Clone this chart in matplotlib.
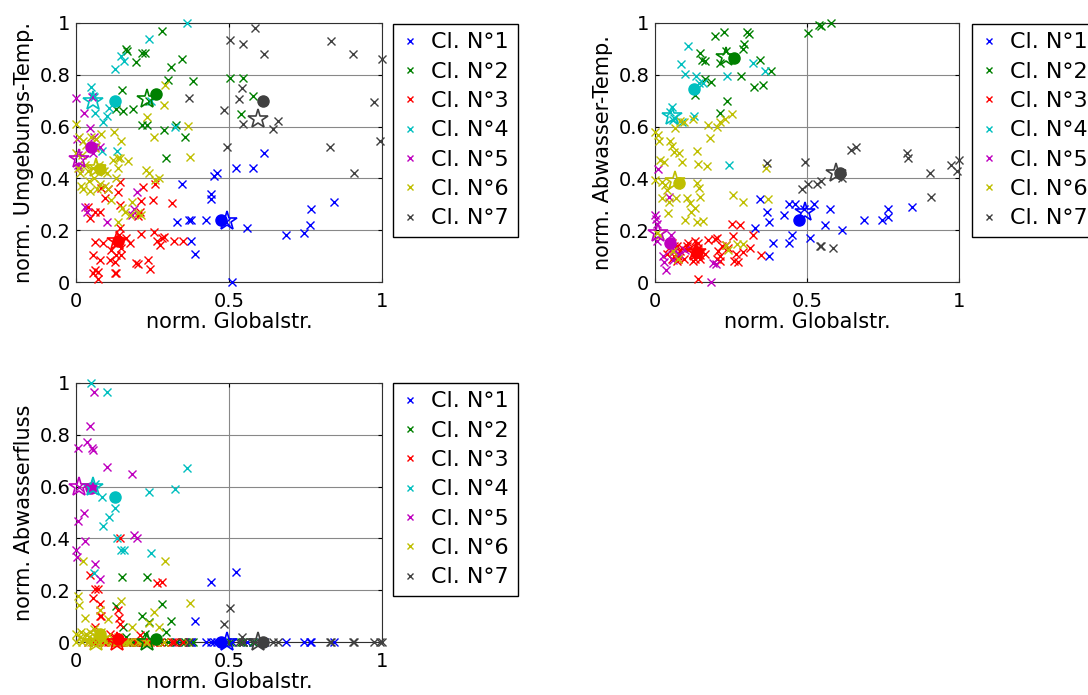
import matplotlib
matplotlib.use("Agg")
import matplotlib.pyplot as plt
from matplotlib.ticker import FuncFormatter, FixedLocator

plt.rcParams['font.family'] = ['DejaVu Sans']

# ---------------------------------------------------------------
# Cluster members: normalised global radiation (x) and the three
# normalised features (ambient temp., waste-water temp., flow)
# ---------------------------------------------------------------
cl1_glob = [0.33, 0.345, 0.37, 0.375, 0.376, 0.389, 0.424, 0.44, 0.44, 0.45, 0.46,
            0.49, 0.509, 0.523, 0.558, 0.577, 0.615, 0.687, 0.746, 0.766, 0.768, 0.844]
cl1_umg = [0.23, 0.38, 0.24, 0.24, 0.16, 0.11, 0.24, 0.34, 0.32, 0.41, 0.42,
           0.23, 0.0, 0.44, 0.21, 0.44, 0.50, 0.18, 0.19, 0.22, 0.28, 0.31]
cl1_abw = [0.21, 0.32, 0.27, 0.23, 0.10, 0.15, 0.26, 0.15, 0.30, 0.18, 0.30,
           0.28, 0.17, 0.30, 0.22, 0.28, 0.20, 0.24, 0.24, 0.25, 0.28, 0.29]
cl1_flow = [0.0, 0.0, 0.0, 0.0, 0.0, 0.08, 0.0, 0.23, 0.0, 0.0, 0.0,
            0.0, 0.0, 0.27, 0.0, 0.0, 0.0, 0.0, 0.0, 0.0, 0.0, 0.0]

cl2_glob = [0.131, 0.149, 0.155, 0.164, 0.166, 0.185, 0.196, 0.215, 0.215, 0.226, 0.233,
            0.237, 0.282, 0.289, 0.293, 0.302, 0.31, 0.327, 0.346, 0.356, 0.382, 0.502,
            0.54, 0.547, 0.58]
cl2_umg = [0.667, 0.742, 0.66, 0.90, 0.89, 0.667, 0.85, 0.886, 0.606, 0.886, 0.606,
           0.70, 0.968, 0.587, 0.477, 0.78, 0.83, 0.606, 0.86, 0.56, 0.777, 0.787,
           0.65, 0.787, 0.72]
cl2_abw = [0.723, 0.884, 0.858, 0.852, 0.783, 0.772, 0.948, 0.845, 0.652, 0.965, 0.89,
           0.697, 0.794, 0.90, 0.919, 0.965, 0.959, 0.752, 0.858, 0.761, 0.815, 0.961,
           0.994, 0.99, 1.0]
cl2_flow = [0.138, 0.25, 0.058, 0.02, 0.0, 0.0, 0.0, 0.10, 0.0, 0.03, 0.25,
            0.077, 0.148, 0.0, 0.039, 0.0, 0.081, 0.0, 0.0, 0.0, 0.0, 0.0,
            0.0, 0.0, 0.0]

cl3_glob = [0.039, 0.045, 0.056, 0.056, 0.061, 0.061, 0.061, 0.072, 0.072, 0.077,
            0.077, 0.083, 0.088, 0.094, 0.105, 0.110, 0.116, 0.126, 0.126, 0.132,
            0.132, 0.137, 0.14, 0.143, 0.143, 0.143, 0.148, 0.148, 0.165, 0.175,
            0.197, 0.203, 0.203, 0.208, 0.214, 0.214, 0.219, 0.235, 0.241, 0.252,
            0.255, 0.259, 0.265, 0.273, 0.28, 0.288, 0.314, 0.321, 0.35]
cl3_umg = [0.29, 0.246, 0.104, 0.033, 0.272, 0.156, 0.046, 0.039, 0.013, 0.272,
           0.085, 0.362, 0.149, 0.323, 0.358, 0.085, 0.124, 0.079, 0.033, 0.104,
           0.033, 0.348, 0.181, 0.387, 0.297, 0.207, 0.13, 0.104, 0.168, 0.149,
           0.072, 0.253, 0.069, 0.272, 0.313, 0.184, 0.367, 0.085, 0.052, 0.317,
           0.194, 0.380, 0.16, 0.143, 0.17, 0.175, 0.304, 0.159, 0.159]
cl3_abw = [0.11, 0.13, 0.15, 0.09, 0.14, 0.10, 0.12, 0.08, 0.14, 0.10,
           0.09, 0.12, 0.13, 0.09, 0.14, 0.15, 0.13, 0.08, 0.11, 0.16,
           0.09, 0.12, 0.012, 0.15, 0.10, 0.13, 0.105, 0.09, 0.11, 0.162,
           0.166, 0.171, 0.09, 0.12, 0.08, 0.10, 0.14, 0.144, 0.13, 0.223,
           0.178, 0.08, 0.11, 0.079, 0.22, 0.114, 0.13, 0.181, 0.106]
cl3_flow = [0.0, 0.258, 0.17, 0.0, 0.204, 0.058, 0.0, 0.0, 0.204, 0.10,
            0.148, 0.10, 0.0, 0.0, 0.0, 0.03, 0.0, 0.0, 0.02, 0.0,
            0.0, 0.123, 0.094, 0.40, 0.071, 0.0, 0.0, 0.0, 0.0, 0.0,
            0.0, 0.0, 0.0, 0.026, 0.0, 0.0, 0.0, 0.0, 0.0, 0.0,
            0.0, 0.0, 0.226, 0.0, 0.232, 0.0, 0.0, 0.0, 0.0]

cl4_glob = [0.05, 0.055, 0.058, 0.062, 0.086, 0.089, 0.10, 0.109, 0.128, 0.135,
            0.146, 0.157, 0.237, 0.245, 0.324, 0.362]
cl4_umg = [0.752, 0.719, 0.714, 0.652, 0.506, 0.619, 0.639, 0.671, 0.822, 0.506,
           0.871, 0.852, 0.938, 0.70, 0.597, 1.0]
cl4_abw = [0.658, 0.677, 0.626, 0.632, 0.843, 0.619, 0.803, 0.91, 0.639, 0.794,
           0.768, 0.768, 0.794, 0.452, 0.845, 0.815]
cl4_flow = [1.0, 0.587, 0.265, 0.61, 0.561, 0.448, 0.965, 0.484, 0.516, 0.40,
            0.355, 0.355, 0.58, 0.345, 0.59, 0.67]

cl5_glob = [0.0, 0.002, 0.005, 0.008, 0.01, 0.026, 0.03, 0.037, 0.046, 0.051,
            0.057, 0.059, 0.062, 0.079, 0.10, 0.183, 0.19, 0.2]
cl5_umg = [0.71, 0.552, 0.45, 0.49, 0.44, 0.652, 0.29, 0.27, 0.594, 0.716,
           0.50, 0.56, 0.52, 0.523, 0.232, 0.259, 0.28, 0.348]
cl5_abw = [0.26, 0.245, 0.225, 0.16, 0.435, 0.10, 0.077, 0.045, 0.33, 0.18,
           0.13, 0.085, 0.12, 0.11, 0.123, 0.0, 0.072, 0.07]
cl5_flow = [0.357, 0.329, 0.748, 0.468, 0.60, 0.50, 0.39, 0.774, 0.835, 0.748,
            0.742, 0.964, 0.30, 0.245, 0.674, 0.649, 0.413, 0.40]

cl6_glob = [0.0, 0.0, 0.005, 0.011, 0.012, 0.016, 0.018, 0.022, 0.023, 0.029,
            0.034, 0.038, 0.044, 0.046, 0.05, 0.055, 0.06, 0.061, 0.066, 0.07,
            0.075, 0.079, 0.083, 0.09, 0.095, 0.10, 0.106, 0.115, 0.12, 0.124,
            0.132, 0.137, 0.137, 0.137, 0.143, 0.146, 0.149, 0.159, 0.17, 0.175,
            0.182, 0.203, 0.214, 0.229, 0.233, 0.24, 0.254, 0.257, 0.27, 0.288,
            0.291, 0.366, 0.372]
cl6_umg = [0.61, 0.50, 0.44, 0.56, 0.42, 0.37, 0.49, 0.544, 0.36, 0.45,
           0.529, 0.43, 0.39, 0.35, 0.561, 0.44, 0.40, 0.518, 0.554, 0.36,
           0.45, 0.38, 0.57, 0.43, 0.37, 0.42, 0.36, 0.317, 0.47, 0.58,
           0.40, 0.478, 0.44, 0.233, 0.48, 0.544, 0.284, 0.27, 0.467, 0.259,
           0.31, 0.265, 0.259, 0.432, 0.636, 0.42, 0.559, 0.394, 0.40, 0.684,
           0.761, 0.603, 0.484]
cl6_abw = [0.581, 0.395, 0.19, 0.568, 0.543, 0.471, 0.18, 0.388, 0.323, 0.465,
           0.375, 0.356, 0.266, 0.31, 0.543, 0.524, 0.12, 0.503, 0.593, 0.326,
           0.09, 0.497, 0.622, 0.465, 0.617, 0.24, 0.323, 0.304, 0.272, 0.629,
           0.285, 0.506, 0.381, 0.233, 0.457, 0.362, 0.33, 0.236, 0.446, 0.606,
           0.555, 0.60, 0.617, 0.629, 0.144, 0.125, 0.648, 0.336, 0.146, 0.308,
           0.146, 0.439, 0.32]
cl6_flow = [0.03, 0.0, 0.178, 0.142, 0.02, 0.04, 0.0, 0.314, 0.01, 0.094,
            0.03, 0.0, 0.02, 0.04, 0.0, 0.01, 0.05, 0.0, 0.02, 0.03,
            0.0, 0.123, 0.04, 0.01, 0.0, 0.02, 0.09, 0.0, 0.01, 0.0,
            0.0, 0.0, 0.02, 0.0, 0.0, 0.159, 0.0, 0.0, 0.0, 0.0,
            0.058, 0.0, 0.0, 0.0, 0.0, 0.074, 0.116, 0.0, 0.058, 0.0,
            0.314, 0.0, 0.151]

cl7_glob = [0.368, 0.484, 0.493, 0.502, 0.533, 0.542, 0.545, 0.547, 0.586, 0.615,
            0.645, 0.66, 0.829, 0.833, 0.904, 0.907, 0.973, 0.994, 1.0]
cl7_umg = [0.71, 0.665, 0.52, 0.935, 0.705, 0.75, 0.92, 0.61, 0.98, 0.88,
           0.59, 0.62, 0.52, 0.93, 0.88, 0.42, 0.695, 0.545, 0.86]
cl7_abw = [0.46, 0.36, 0.465, 0.38, 0.38, 0.14, 0.39, 0.138, 0.13, 0.40,
           0.51, 0.52, 0.50, 0.48, 0.42, 0.33, 0.45, 0.43, 0.47]
cl7_flow = [0.0, 0.07, 0.0, 0.13, 0.0, 0.02, 0.0, 0.0, 0.0, 0.0,
            0.0, 0.0, 0.0, 0.0, 0.0, 0.0, 0.0, 0.0, 0.0]

# Cluster centres (filled circles), per cluster: glob, umg, abw, flow
centre_glob = [0.474, 0.261, 0.137, 0.128, 0.048, 0.078, 0.61]
centre_umg = [0.24, 0.726, 0.158, 0.697, 0.523, 0.438, 0.70]
centre_abw = [0.24, 0.863, 0.115, 0.747, 0.15, 0.381, 0.42]
centre_flow = [0.0, 0.013, 0.01, 0.561, 0.594, 0.03, 0.0]

# Representative members (hollow stars)
rep_glob = [0.495, 0.233, 0.135, 0.057, 0.01, 0.065, 0.596]
rep_umg = [0.236, 0.706, 0.16, 0.697, 0.474, 0.44, 0.63]
rep_abw = [0.27, 0.87, 0.115, 0.639, 0.188, 0.39, 0.42]
rep_flow = [0.0, 0.0, 0.0, 0.60, 0.60, 0.0, 0.0]

legend_labels = ['Cl. N°1', 'Cl. N°2', 'Cl. N°3', 'Cl. N°4', 'Cl. N°5', 'Cl. N°6', 'Cl. N°7']
x_label = 'norm. Globalstr.'
y_labels = ['norm. Umgebungs-Temp.', 'norm. Abwasser-Temp.', 'norm. Abwasserfluss']

colors = [(0, 0, 1), (0, 0.5, 0), (1, 0, 0), (0, 0.75, 0.75),
          (0.75, 0, 0.75), (0.75, 0.75, 0), (0.25, 0.25, 0.25)]

glob = [cl1_glob, cl2_glob, cl3_glob, cl4_glob, cl5_glob, cl6_glob, cl7_glob]
features = [
    [cl1_umg, cl2_umg, cl3_umg, cl4_umg, cl5_umg, cl6_umg, cl7_umg],
    [cl1_abw, cl2_abw, cl3_abw, cl4_abw, cl5_abw, cl6_abw, cl7_abw],
    [cl1_flow, cl2_flow, cl3_flow, cl4_flow, cl5_flow, cl6_flow, cl7_flow],
]
centres = [centre_umg, centre_abw, centre_flow]
reps = [rep_umg, rep_abw, rep_flow]

W, H = 1088, 695
fig = plt.figure(figsize=(W / 100, H / 100), dpi=100)

# axes boxes in pixels: (left, top, width, height)
boxes = [(76, 23, 306, 259), (655, 23, 304, 259), (76, 383, 306, 259)]
legend_anchor = [(393, 24), (972, 24), (393, 383)]

for p in range(3):
    l, t, w, h = boxes[p]
    ax = fig.add_axes([l / W, 1 - (t + h) / H, w / W, h / H])
    handles = []
    for k in range(7):
        hnd, = ax.plot(glob[k], features[p][k], linestyle='none', marker='x',
                       color=colors[k], markersize=5.5, markeredgewidth=1.0,
                       clip_on=False, zorder=3)
        handles.append(hnd)
    for k in range(7):
        ax.plot(centre_glob[k], centres[p][k], linestyle='none', marker='o',
                color=colors[k], markersize=8, clip_on=False, zorder=4)
    for k in range(7):
        ax.plot(rep_glob[k], reps[p][k], linestyle='none', marker='*',
                markerfacecolor='none', markeredgecolor=colors[k],
                markersize=15, markeredgewidth=1.2, clip_on=False, zorder=5)

    ax.set_xlim(0, 1)
    ax.set_ylim(0, 1)
    ax.xaxis.set_major_locator(FixedLocator([0, 0.5, 1]))
    ax.yaxis.set_major_locator(FixedLocator([0, 0.2, 0.4, 0.6, 0.8, 1]))
    fmt = FuncFormatter(lambda v, pos: '%g' % v)
    ax.xaxis.set_major_formatter(fmt)
    ax.yaxis.set_major_formatter(fmt)
    ax.grid(True, color='#888888', linewidth=0.8, linestyle='-', zorder=0)
    ax.set_axisbelow(True)
    ax.tick_params(direction='in', length=3, width=0.8, top=True, right=True,
                   labelsize=14)
    ax.tick_params(axis='x', pad=7)
    ax.tick_params(axis='y', pad=4)
    for s in ax.spines.values():
        s.set_linewidth(0.8)
        s.set_color('#303030')
    ax.set_xlabel(x_label, fontsize=15, labelpad=1)
    ax.set_ylabel(y_labels[p], fontsize=15, labelpad=4)

    ax_l, ax_t = legend_anchor[p]
    leg = fig.legend(handles, legend_labels, loc='upper left',
                     bbox_to_anchor=(ax_l / W, 1 - ax_t / H),
                     fontsize=16, frameon=True, fancybox=False,
                     edgecolor='black', framealpha=1, borderpad=0.38,
                     labelspacing=0.42, handlelength=0.8, handletextpad=0.55,
                     borderaxespad=0, markerscale=0.8)
    leg.get_frame().set_linewidth(1.0)

fig.savefig('out.png', dpi=100)
